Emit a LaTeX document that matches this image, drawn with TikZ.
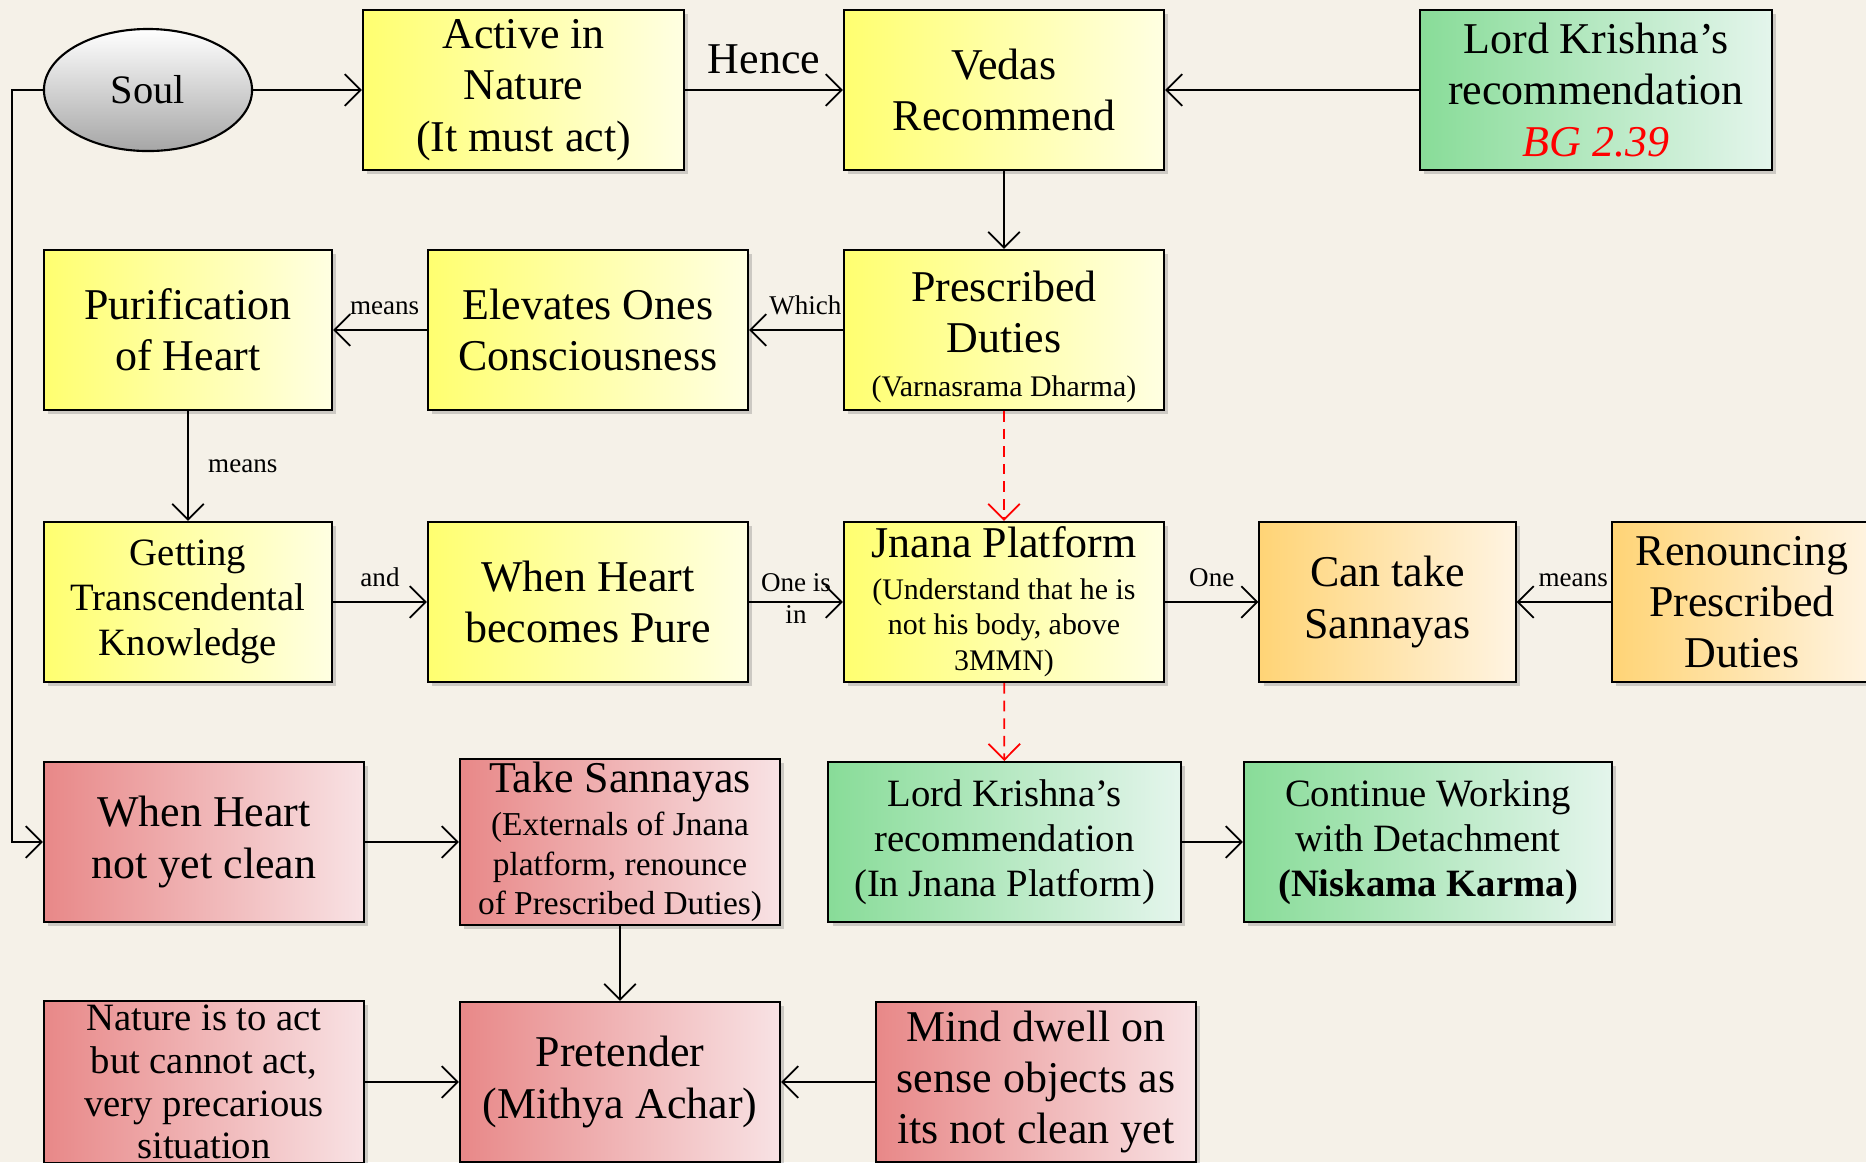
\documentclass[tikz,border=0pt]{standalone}
\usepackage{fontspec}
\setmainfont{Liberation Serif}
\usetikzlibrary{arrows.meta,shadows,shapes.geometric}

\definecolor{bgcream}{RGB}{245,241,232}
\definecolor{ylwA}{RGB}{255,255,112}
\definecolor{ylwB}{RGB}{255,255,226}
\definecolor{grnA}{RGB}{136,220,152}
\definecolor{grnB}{RGB}{228,245,236}
\definecolor{redA}{RGB}{232,136,136}
\definecolor{redB}{RGB}{248,226,228}
\definecolor{orgA}{RGB}{255,212,118}
\definecolor{orgB}{RGB}{255,244,226}

\newcommand{\szbig}{\fontsize{12.5}{14.6}\selectfont}
\newcommand{\szmid}{\fontsize{11}{12.8}\selectfont}
\newcommand{\szsub}{\fontsize{9.5}{11.2}\selectfont}
\newcommand{\szsmall}{\fontsize{8.5}{10.2}\selectfont}
\newcommand{\szlab}{\fontsize{7.7}{9}\selectfont}

\tikzset{
  box/.style={draw=black, line width=0.6pt, minimum width=3.2cm, minimum height=1.6cm,
    align=center, inner sep=1pt, font=\szbig,
    drop shadow={shadow xshift=1.2pt, shadow yshift=-1.2pt, opacity=0.35}},
  ybox/.style={box, left color=ylwA, right color=ylwB},
  gbox/.style={box, left color=grnA, right color=grnB},
  rbox/.style={box, left color=redA, right color=redB},
  obox/.style={box, left color=orgA, right color=orgB},
  arr/.style={-{Straight Barb[length=4.5pt,width=9pt]}, line width=0.5pt},
  redarr/.style={arr, red, dash pattern=on 3pt off 2pt},
  lab/.style={font=\szlab, inner sep=1.5pt}
}

\begin{document}
\begin{tikzpicture}[x=0.01cm,y=-0.01cm]
  \fill[bgcream] (0,0) rectangle (1866,1162);
  \useasboundingbox (0,0) rectangle (1866,1162);

  % row 1
  \node[ellipse, draw=black, line width=0.6pt, minimum width=2.08cm, minimum height=1.22cm,
    top color=white, bottom color=black!35, font=\fontsize{11.5}{13}\selectfont] (soul) at (148,90) {Soul};
  \node[ybox, minimum width=3.21cm] (active) at (523.5,90) {Active in\\Nature\\(It must act)};
  \node[ybox] (vedas) at (1004,90) {Vedas\\Recommend};
  \node[gbox, minimum width=3.52cm] (krish) at (1596,90) {Lord Krishna’s\\recommendation\\{\color{red}\itshape BG 2.39}};

  % row 2
  \node[ybox, minimum width=2.88cm] (purif) at (188,330) {Purification\\of Heart};
  \node[ybox] (elev) at (588,330) {Elevates Ones\\Consciousness};
  \node[ybox, text height=39.8pt] (presc) at (1004,330) {Prescribed\\Duties\\[-2pt]{\szsmall(Varnasrama Dharma)}};

  % row 3
  \node[ybox, minimum width=2.88cm, font=\szmid] (getting) at (188,602) {Getting\\Transcendental\\Knowledge};
  \node[ybox] (pure) at (588,602) {When Heart\\becomes Pure};
  \node[ybox, font=\szsmall] (jnana) at (1004,602) {{\szbig Jnana Platform}\\[1.5pt](Understand that he is\\not his body, above\\3MMN)};
  \node[obox, minimum width=2.56cm] (cantake) at (1387.5,602) {Can take\\Sannayas};
  \node[obox, minimum width=2.6cm] (renounce) at (1742,602) {Renouncing\\Prescribed\\Duties};

  % row 4
  \node[rbox] (notclean) at (204,842) {When Heart\\not yet clean};
  \node[rbox, font=\szsub] (takesan) at (620,842) {{\szbig Take Sannayas}\\[1pt](Externals of Jnana\\platform, renounce\\of Prescribed Duties)};
  \node[gbox, minimum width=3.52cm, font=\szmid] (krish2) at (1004.5,842) {Lord Krishna’s\\recommendation\\(In Jnana Platform)};
  \node[gbox, minimum width=3.68cm, font=\szmid] (contin) at (1428,842) {Continue Working\\with Detachment\\\textbf{(Niskama Karma)}};

  % row 5
  \node[rbox, font=\fontsize{11}{12.2}\selectfont] (nature) at (204,1082) {Nature is to act\\but cannot act,\\very precarious\\situation};
  \node[rbox] (pretend) at (620,1082) {Pretender\\(Mithya Achar)};
  \node[rbox] (mind) at (1036,1082) {Mind dwell on\\sense objects as\\its not clean yet};

  \coordinate (loop) at (12,90);

  % connectors
  \draw[arr] (soul) -- (active);
  \draw[arr] (active) -- node[above=1pt, font=\szbig]{Hence} (vedas);
  \draw[arr] (krish) -- (vedas);
  \draw[arr] (vedas) -- (presc);
  \draw[arr] (presc) -- node[lab, above=2.5pt, pos=0.4]{Which} (elev);
  \draw[arr] (elev) -- node[lab, above=2.5pt, pos=0.45]{means} (purif);
  \draw[arr] (purif) -- node[lab, right=4pt]{means} (getting);
  \draw[arr] (getting) -- node[lab, above=2.5pt]{and} (pure);
  \draw[arr] (pure) -- node[lab, align=center, yshift=1pt]{One is\\in} (jnana);
  \draw[redarr] (presc) -- (jnana);
  \draw[arr] (jnana) -- node[lab, above=2.5pt]{One} (cantake);
  \draw[arr] (renounce) -- node[lab, above=2.5pt, pos=0.4]{means} (cantake);
  \draw[redarr] (jnana) -- (krish2);
  \draw[arr] (soul.west) -- (loop) |- (notclean.west);
  \draw[arr] (notclean) -- (takesan);
  \draw[arr] (krish2) -- (contin);
  \draw[arr] (takesan) -- (pretend);
  \draw[arr] (nature) -- (pretend);
  \draw[arr] (mind) -- (pretend);
\end{tikzpicture}
\end{document}
